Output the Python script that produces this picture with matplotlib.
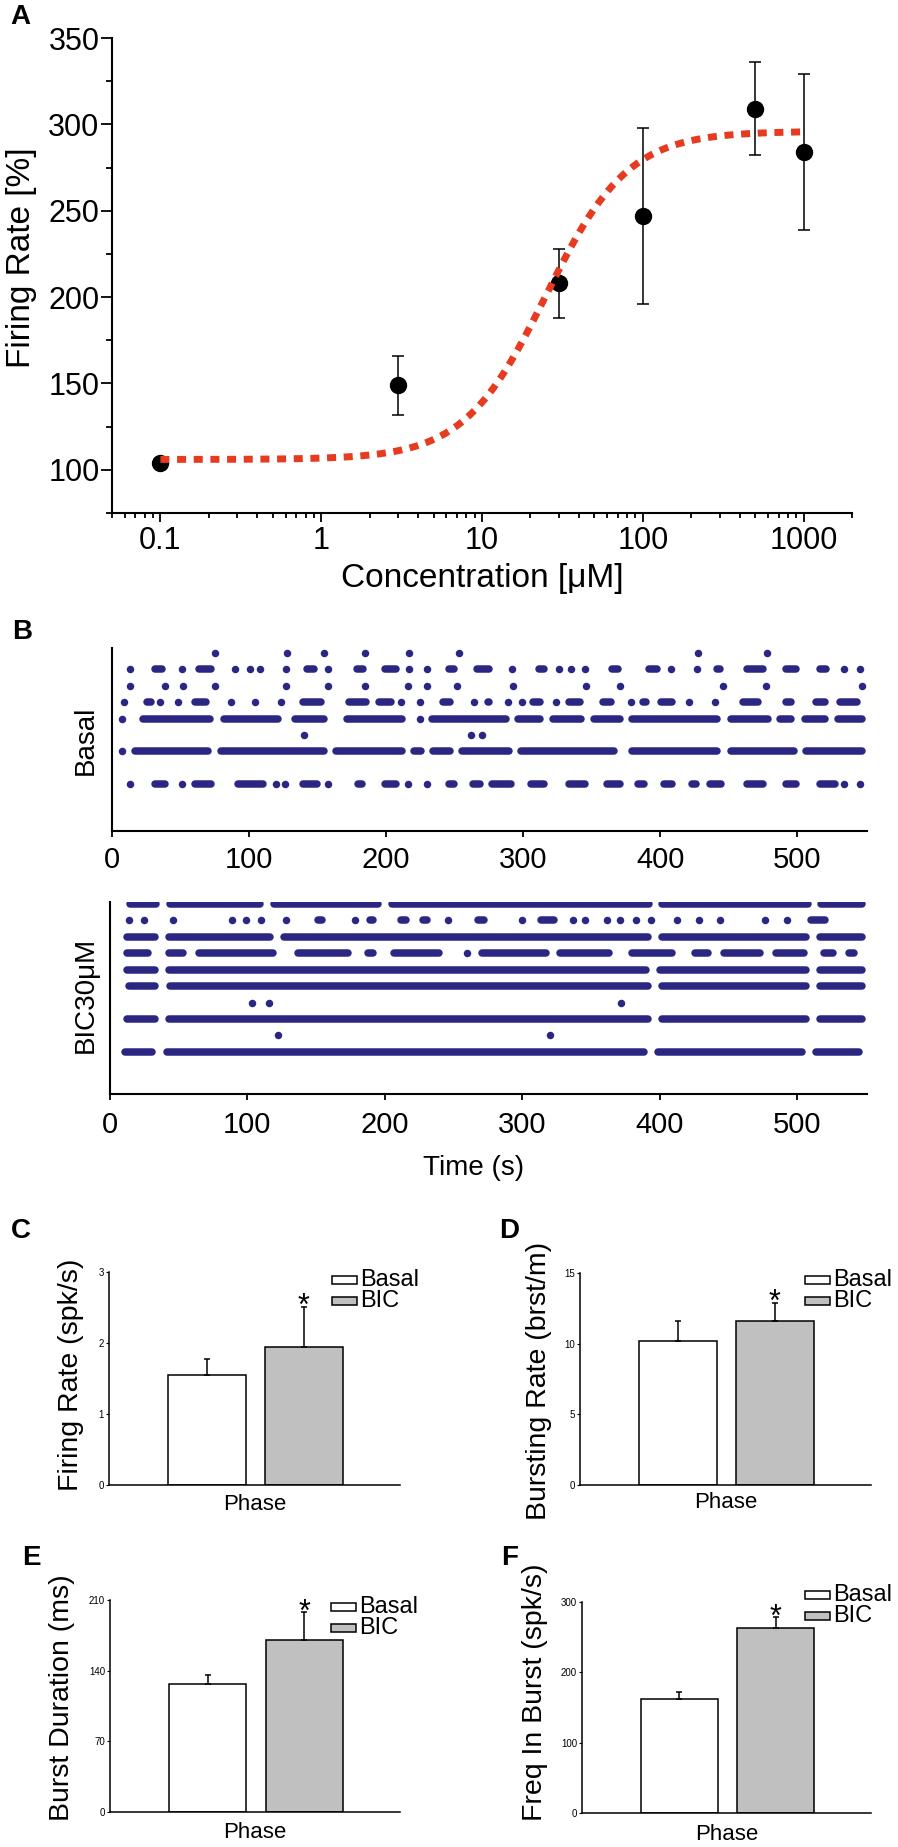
import numpy as np
import matplotlib.pyplot as plt
from matplotlib.collections import LineCollection
from matplotlib.patches import Rectangle
from matplotlib.ticker import LogLocator, FuncFormatter, MultipleLocator, NullFormatter

plt.rcParams['font.family'] = ['Liberation Sans', 'DejaVu Sans']

# ---- panel A: concentration response ----
conc = [0.1, 3, 30, 100, 500, 1000]
rate = [104, 149, 208, 247, 309, 284]
rate_err = [2, 17, 20, 51, 27, 45]
# Hill fit
fit_bottom, fit_top, fit_ec50, fit_n = 106, 296, 25, 1.7

# ---- panel B: raster, spike times (s); a tuple is a run of overlapping spikes ----
basal_channels = [9, 8, 7, 6, 5, 4, 3, 1]
basal_spikes = [
    [75, 128, 155, 185, 217, 253, 428, 478],
    [13, (29, 39), 51, (61, 75), 90, 101, 108, 127, (140, 150), 158, (176, 186), (197, 210), 217, 230,
     (243, 252), (264, 278), 292, (309, 318), 326, 335, 345, (362, 372), (389, 400), 408, 427, (439, 446),
     (461, 478), (489, 502), (514, 524), 534, 546],
    [13, 39, 52, 75, 127, 158, 185, 216, 230, 252, 293, 346, 371, 446, 477, 547],
    [9, (23, 31), 35, 48, (58, 71), 87, 104, 123, (137, 155), (170, 188), (192, 206), 211, 225, (239, 249),
     264, (272, 278), 289, 299, (305, 315), 324, (331, 344), (356, 367), 379, (385, 392), (398, 411), 421,
     440, (458, 474), (489, 498), (511, 523), (529, 546)],
    [7, (20, 74), (79, 124), (131, 157), (169, 214), 225, (231, 290), (294, 315), (319, 345), (349, 373),
     (377, 444), (449, 481), (485, 498), (503, 523), (527, 550)],
    [140, 262, 270],
    [7, (14, 73), (77, 157), (161, 214), (218, 228), (232, 249), (253, 292), (296, 369), (377, 444),
     (449, 500), (504, 550)],
    [13, (29, 41), 51, (58, 75), (89, 113), 120, 126, (137, 152), 158, (177, 185), (197, 210), 216, 230,
     (243, 252), (261, 271), (275, 294), (303, 318), (331, 348), (359, 373), (381, 391), (400, 411),
     (421, 429), (434, 447), (461, 478), (489, 502), (514, 530), 534, 546],
]
bic_channels = [10, 9, 8, 7, 6, 5, 4, 3, 2, 1]
bic_spikes = [
    [(12, 36), (41, 112), (117, 198), (203, 395), (399, 511), (515, 550)],
    [14, 25, 46, 89, 99, 110, 128, (149, 157), 178, (187, 194), (209, 218), (225, 233), 246, (265, 275),
     300, (311, 326), 337, 346, 362, 371, 383, 394, 413, 429, 444, 477, 493, (508, 523)],
    [(10, 35), (40, 119), (124, 394), (399, 509), (514, 550)],
    [(10, 30), (40, 56), (62, 121), (134, 176), (185, 194), (204, 242), 260, (268, 320), (325, 366),
     (377, 412), (423, 438), (444, 476), (482, 508), (517, 529), (535, 544)],
    [(10, 35), (40, 393), (398, 509), (514, 550)],
    [(11, 35), (41, 394), (399, 509), (514, 550)],
    [103, 116, 372],
    [(10, 35), (40, 394), (399, 509), (514, 550)],
    [122, 320],
    [(8, 33), (39, 391), (396, 506), (511, 548)],
]
time_ticks = [0, 100, 200, 300, 400, 500]

# ---- panels C-F ----
groups = ['Basal', 'BIC']
fr_mean, fr_err = [1.55, 1.95], [0.23, 0.56]
br_mean, br_err = [10.2, 11.6], [1.4, 1.3]
bd_mean, bd_err = [127, 170], [9, 28]
fb_mean, fb_err = [162, 263], [10, 15]

W, H = 898, 1847
NAVY = '#2c2683'
RED = '#e63b1f'
DOT = 5.4  # raster dot diameter, pt
fig = plt.figure(figsize=(W / 100, H / 100), dpi=100)


def rect(l, t, r, b):
    return [l / W, 1 - b / H, (r - l) / W, (b - t) / H]


def ftext(x, y, s, **kw):
    fig.text(x / W, 1 - y / H, s, ha='center', va='center', **kw)


# panel A
ax = fig.add_axes(rect(112, 38, 852, 513))
ax.set_xscale('log')
ax.set_xlim(0.05, 2000)
ax.set_ylim(75, 350)
xs = np.logspace(-1, 3, 400)
fit = fit_bottom + (fit_top - fit_bottom) / (1 + (fit_ec50 / xs) ** fit_n)
ax.errorbar(conc, rate, yerr=rate_err, fmt='none', ecolor='black', elinewidth=1.1,
            capsize=4.3, capthick=1.1, zorder=2)
ax.plot(conc, rate, 'o', color='black', ms=11.5, zorder=3)
ax.plot(xs, fit, color=RED, lw=5, linestyle=(0, (1.3, 1.1)), dash_capstyle='butt', zorder=4)
for s in ['top', 'right']:
    ax.spines[s].set_visible(False)
for s in ['left', 'bottom']:
    ax.spines[s].set_linewidth(1.5)
ax.set_yticks([100, 150, 200, 250, 300, 350])
ax.yaxis.set_minor_locator(MultipleLocator(25))
ax.xaxis.set_major_locator(LogLocator(base=10, numticks=10))
ax.xaxis.set_minor_locator(LogLocator(base=10, subs=np.arange(2, 10), numticks=20))
ax.xaxis.set_major_formatter(FuncFormatter(lambda v, _: f'{v:g}'))
ax.xaxis.set_minor_formatter(NullFormatter())
ax.tick_params(axis='y', which='major', length=8, width=1.3, labelsize=22, pad=1)
ax.tick_params(axis='y', which='minor', length=4.5, width=1.3)
ax.tick_params(axis='x', which='major', length=6.5, width=1.3, labelsize=22, pad=3)
ax.tick_params(axis='x', which='minor', length=3.5, width=1.3)
ftext(22, 258, 'Firing Rate [%]', rotation=90, fontsize=24)
ftext(482, 578, 'Concentration [μM]', fontsize=24)


# panel B
def raster(box, channels, spikes, ylim, pad):
    ax = fig.add_axes(box)
    r = 2.6
    segs, sx, sy = [], [], []
    for ch, row in zip(channels, spikes):
        for item in row:
            if isinstance(item, tuple):
                segs.append([(item[0] + r, ch), (item[1] - r, ch)])
            else:
                sx.append(item)
                sy.append(ch)
    ax.add_collection(LineCollection(segs, colors=NAVY, linewidths=DOT, capstyle='round'))
    ax.scatter(sx, sy, s=DOT ** 2, color=NAVY, linewidths=0)
    ax.set_xlim(0, 551)
    ax.set_ylim(*ylim)
    for s in ['top', 'right']:
        ax.spines[s].set_visible(False)
    for s in ['left', 'bottom']:
        ax.spines[s].set_linewidth(1.5)
    ax.set_yticks([])
    ax.set_xticks(time_ticks)
    ax.tick_params(axis='x', length=4, width=1.3, labelsize=21, pad=pad)
    return ax


raster(rect(112, 648, 867, 831), basal_channels, basal_spikes, (-1.85, 9.3), 7)
raster(rect(110, 902, 867, 1094), bic_channels, bic_spikes, (-1.55, 10.1), 8)
ftext(86, 740, 'Basal', rotation=90, fontsize=20)
ftext(86, 995, 'BIC30μM', rotation=90, fontsize=20)
ftext(474, 1168, 'Time (s)', fontsize=20)


# panels C-F
def bar_panel(box, means, errs, ticks, ylabel, ylab_xy, phase_y, leg_xy):
    ax = fig.add_axes(rect(*box))
    ax.bar([0, 1], means, width=0.8, color=['white', '#c0c0c0'], edgecolor='black', linewidth=1.1, zorder=2)
    ax.errorbar([0, 1], means, yerr=[[0, 0], errs], fmt='none', ecolor='black', elinewidth=1.1,
                capsize=2, capthick=1.1, zorder=3)
    ax.annotate('*', xy=(1, means[1] + errs[1]), xytext=(0, -6), textcoords='offset points',
                ha='center', va='baseline', fontsize=22)
    ax.set_xlim(-1.01, 1.99)
    ax.set_ylim(0, ticks[-1])
    for s in ['top', 'right']:
        ax.spines[s].set_visible(False)
    for s in ['left', 'bottom']:
        ax.spines[s].set_linewidth(1.1)
    ax.set_xticks([])
    ax.set_yticks(ticks)
    ax.tick_params(axis='y', length=2.5, width=0.8, labelsize=7, pad=1)
    ftext(ylab_xy[0], ylab_xy[1], ylabel, rotation=90, fontsize=20.5)
    ftext((box[0] + box[2]) / 2, phase_y, 'Phase', fontsize=16)
    lx, ly = leg_xy
    for i, (g, c) in enumerate(zip(groups, ['white', '#c0c0c0'])):
        yy = ly + i * 21
        fig.add_artist(Rectangle((lx / W, 1 - (yy + 4) / H), 25 / W, 8 / H, facecolor=c,
                                 edgecolor='black', linewidth=1.1, transform=fig.transFigure))
        fig.text((lx + 28) / W, 1 - yy / H, g, ha='left', va='center', fontsize=17)
    return ax


bar_panel((109, 1272, 400, 1485), fr_mean, fr_err, [0, 1, 2, 3], 'Firing Rate (spk/s)',
          (71, 1375), 1505, (332, 1280))
bar_panel((580, 1273, 871, 1485), br_mean, br_err, [0, 5, 10, 15], 'Bursting Rate (brst/m)',
          (539, 1381), 1503, (805, 1280))
bar_panel((110, 1600, 400, 1812), bd_mean, bd_err, [0, 70, 140, 210], 'Burst Duration (ms)',
          (62, 1698), 1833, (331, 1607))
bar_panel((582, 1602, 871, 1813), fb_mean, fb_err, [0, 100, 200, 300], 'Freq In Burst (spk/s)',
          (535, 1692), 1835, (805, 1595))

for letter, x, y in [('A', 20, 17), ('B', 22, 632), ('C', 21, 1231), ('D', 509, 1231),
                     ('E', 31, 1558), ('F', 510, 1558)]:
    ftext(x, y, letter, fontsize=20, fontweight='bold')

fig.savefig('out.png', dpi=100)
